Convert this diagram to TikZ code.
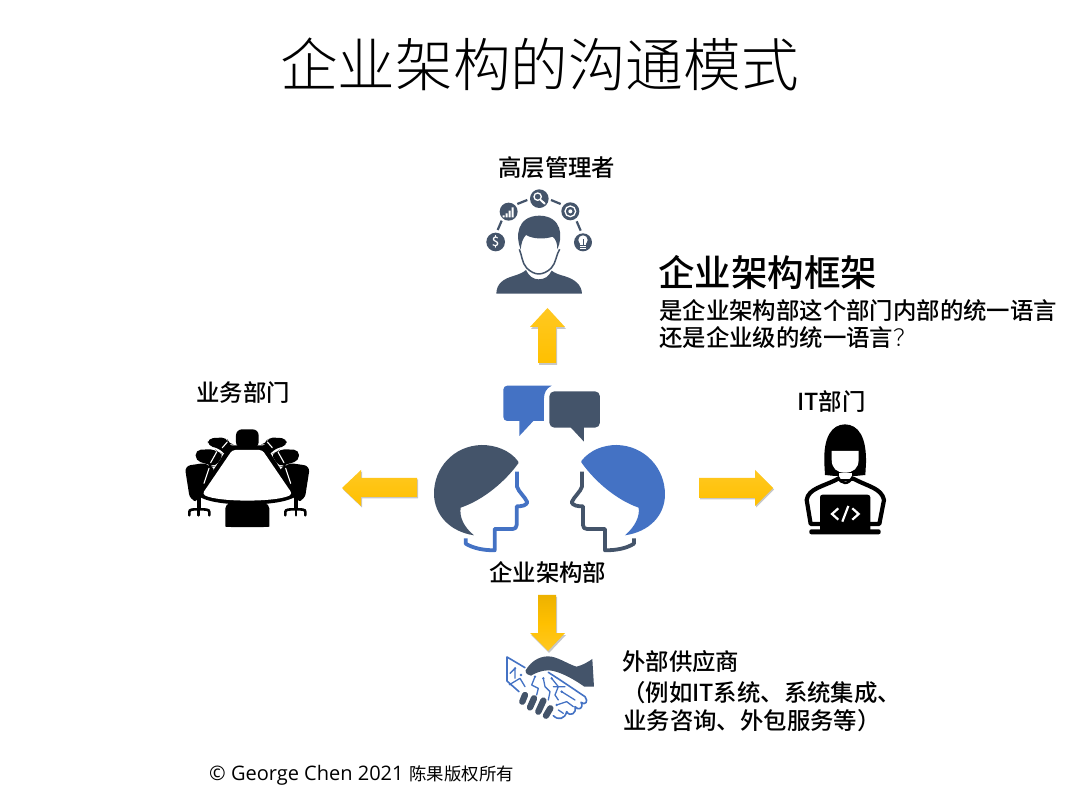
\documentclass[tikz,border=0pt]{standalone}
\usepackage{fontspec}
\setmainfont{Noto Sans CJK SC Medium}
\newfontfamily\titlefont{Noto Sans CJK SC Light}
\newfontfamily\regfont{Noto Sans CJK SC}
\newfontfamily\latinfont{Open Sans}
\definecolor{slate}{HTML}{44546A}
\definecolor{bluec}{HTML}{4472C4}
\definecolor{goldc}{HTML}{FFC000}
\definecolor{goldlight}{HTML}{FFC821}
\definecolor{golddark}{HTML}{EDB200}
\tikzset{
  lab/.style={anchor=base west,inner sep=0pt,font=\fontsize{23.4}{28}\selectfont,text=black},
  arrowup/.style={top color=goldlight,bottom color=goldc,draw=none},
  arrowdown/.style={top color=golddark,bottom color=goldlight,middle color=goldc,draw=none},
  arrowside/.style={top color=goldlight,bottom color=goldc,draw=none},
  ashadow/.style={fill=black,opacity=.22,draw=none},
  ln/.style={line cap=round,line join=round},
}
\begin{document}
\begin{tikzpicture}[x=1pt,y=-1pt]
\useasboundingbox (0,0) rectangle (1080,799);
\fill[white] (0,0) rectangle (1080,799);

% texts
\node[lab,font=\titlefont\fontsize{57.6}{60}\selectfont] (title) at (280,87) {企业架构的沟通模式};
\node[lab] (exec) at (498,177) {高层管理者};
\node[lab,font=\fontsize{36.5}{40}\selectfont] (fw) at (658,287) {企业架构框架};
\node[lab] (q1) at (659,320) {是企业架构部这个部门内部的统一语言};
\node[lab] (q2) at (659,347) {还是企业级的统一语言{\titlefont ？}};
\node[lab] (biz) at (196,402) {业务部门};
\node[lab] (it) at (797,411) {IT部门};
\node[lab] (ea) at (489,582) {企业架构部};
\node[lab] (v1) at (622,670) {外部供应商};
\node[lab] (v2) at (622,701) {（例如IT系统、系统集成、};
\node[lab] (v3) at (623,729) {业务咨询、外包服务等）};
\node[lab,font=\regfont\fontsize{17.4}{20}\selectfont] (copy) at (209,780) {{\latinfont\fontsize{20}{20}\selectfont ©\ George Chen 2021}\hspace{2pt} 陈果版权所有};

% arrows
\fill[ashadow] (548.5,310) -- (566,329) -- (557,329) -- (557,365) -- (539,365) -- (539,329) -- (531,329) -- cycle;
\shade[arrowup] (547.5,308) -- (565,327) -- (556,327) -- (556,363) -- (538,363) -- (538,327) -- (530,327) -- cycle;
\fill[ashadow] (343,489.5) -- (362,471.5) -- (362,479.5) -- (418,479.5) -- (418,498.5) -- (362,498.5) -- (362,507.5) -- cycle;
\shade[arrowside] (342,488) -- (361,470) -- (361,478) -- (417,478) -- (417,497) -- (361,497) -- (361,506) -- cycle;
\fill[ashadow] (774,489.5) -- (756,471.5) -- (756,479.5) -- (700,479.5) -- (700,499.5) -- (756,499.5) -- (756,507.5) -- cycle;
\shade[arrowside] (773,488) -- (755,470) -- (755,478) -- (699,478) -- (699,498) -- (755,498) -- (755,506) -- cycle;
\fill[ashadow] (549,653) -- (531,635) -- (539,635) -- (539,597) -- (557,597) -- (557,635) -- (566,635) -- cycle;
\shade[arrowdown] (548,651) -- (530,633) -- (538,633) -- (538,595) -- (556,595) -- (556,633) -- (565,633) -- cycle;

% executive icon
\begin{scope}[shift={(470,180)},scale=0.3333]
  \fill[slate] (77,186) circle (28);
  \fill[slate] (116,95) circle (27);
  \fill[slate] (208,56) circle (28);
  \fill[slate] (301,94) circle (27);
  \fill[slate] (339,187) circle (27);
  \draw[slate,line width=2.2pt] (83,150) -- (95,122) (142,72) -- (172,60) (243,60) -- (272,72) (320,124) -- (332,152);
  \node[text=white,inner sep=0pt,font=\fontsize{13}{13}\selectfont] (dollar) at (77,186) {\$};
  \fill[white] (98,106) rectangle (104,112) (107,100) rectangle (113,112) (116,92) rectangle (122,112) (125,82) rectangle (131,112);
  \draw[white,line width=1.3pt] (203,50) circle (11);
  \draw[white,line width=2pt,line cap=round] (212,60) -- (224,71);
  \draw[white,line width=1.3pt] (301,94) circle (16);
  \fill[white] (301,94) circle (6);
  \fill[white] (339,180) circle (14);
  \fill[white] (331,190) rectangle (347,206);
  \draw[slate,line width=.8pt] (339,178) -- (339,196) (331,197) -- (347,197) (331,201) -- (347,201);
  \fill[slate] (79,341) .. controls (80,310) and (100,297) .. (130,288) .. controls (150,282) and (160,277) .. (168,270) .. controls (178,290) and (190,298) .. (206,298) .. controls (224,298) and (236,290) .. (245,272) .. controls (255,280) and (270,285) .. (285,289) .. controls (315,298) and (335,315) .. (336,341) -- cycle;
  \fill[white] (148,205) .. controls (155,255) and (175,283) .. (206,285) .. controls (237,283) and (258,255) .. (266,205) -- (250,170) -- (170,170) -- cycle;
  \draw[slate,line width=1.5pt] (148,208) .. controls (155,222) and (156,250) .. (170,264) .. controls (182,276) and (195,282) .. (206,282) .. controls (218,282) and (232,276) .. (244,264) .. controls (258,250) and (259,222) .. (269,208);
  \fill[slate] (152,208) .. controls (136,170) and (140,108) .. (208,107) .. controls (276,108) and (280,170) .. (262,208) .. controls (262,190) and (258,178) .. (248,170) .. controls (225,178) and (190,178) .. (168,165) .. controls (158,175) and (154,190) .. (152,208) -- cycle;
\end{scope}

% heads and bubbles
\begin{scope}[shift={(420,375)},scale=0.3333]
  \fill[bluec] (262,32) -- (395,32) .. controls (378,40) and (372,55) .. (372,70) -- (372,138) -- (340,138) -- (298,183) -- (298,138) -- (262,138) .. controls (255,138) and (250,133) .. (250,126) -- (250,44) .. controls (250,37) and (255,32) .. (262,32) -- cycle;
  \fill[slate,rounded corners=5pt] (388,49) rectangle (540,158);
  \fill[slate] (450,155) -- (492,200) -- (492,155) -- cycle;
  \fill[slate] (295,260) .. controls (270,225) and (225,210) .. (185,210) .. controls (100,212) and (42,280) .. (42,355) .. controls (42,420) and (90,470) .. (162,481) .. controls (130,455) and (118,425) .. (122,398) .. controls (190,375) and (255,320) .. (295,265) -- cycle;
  \draw[bluec,line width=3.8pt,line join=round] (291,290) -- (291,335) .. controls (295,350) and (315,365) .. (322,382) .. controls (318,392) and (305,394) .. (290,394) -- (290,450) .. controls (290,458) and (285,462) .. (278,462) -- (224,462) -- (224,526) .. controls (190,526) and (160,520) .. (137,506) -- (137,490);
  \fill[bluec] (484,258) .. controls (510,225) and (550,210) .. (590,210) .. controls (675,212) and (735,280) .. (735,358) .. controls (735,420) and (690,470) .. (615,481) .. controls (645,455) and (660,425) .. (656,398) .. controls (590,375) and (525,320) .. (484,262) -- cycle;
  \draw[slate,line width=3.8pt,line join=round] (486,290) -- (486,335) .. controls (482,350) and (462,365) .. (455,382) .. controls (459,392) and (472,394) .. (489,394) -- (489,450) .. controls (489,458) and (494,462) .. (501,462) -- (555,462) -- (555,526) .. controls (590,526) and (620,520) .. (642,506) -- (642,490);
\end{scope}

% conference table
\begin{scope}[shift={(170,420)},scale=0.3333]
  \fill[black,rounded corners=6pt] (198,84) -- (198,28) -- (266,28) -- (266,84) -- cycle;
  \foreach \m in {1,-1}{
    \begin{scope}[shift={(232,0)},xscale=\m]
      \fill[black,rounded corners=5pt] (-118,78) -- (-118,55) -- (-62,52) -- (-56,72) -- (-40,74) -- (-60,110) -- (-85,85) -- cycle;
      \fill[black,rounded corners=5pt] (-155,122) -- (-155,90) -- (-97,87) -- (-88,100) -- (-70,100) -- (-95,140) -- cycle;
      \fill[black,rounded corners=6pt] (-188,138) -- (-120,128) -- (-112,140) -- (-95,140) -- (-135,225) -- (-145,245) -- (-172,240) -- cycle;
      \fill[black] (-152,235) rectangle (-140,270);
      \draw[black,line width=2.6pt,line cap=round] (-174,286) -- (-174,276) .. controls (-174,268) and (-165,268) .. (-146,268) .. controls (-125,268) and (-114,268) .. (-114,276) -- (-114,286);
      \draw[black,line width=2.6pt,line cap=round] (-146,268) -- (-146,286);
      \draw[white,line width=1.1pt,line cap=round] (-75,83) -- (-60,66) (-110,128) -- (-92,96) (-130,190) -- (-115,145);
    \end{scope}
  }
  \fill[black,rounded corners=5pt] (166,250) -- (298,250) -- (298,305) .. controls (298,322) and (166,322) .. (166,305) -- cycle;
  \fill[black,rounded corners=2pt] (178,76) -- (286,76) -- (382,226) .. controls (330,262) and (134,262) .. (82,226) -- cycle;
  \fill[white,rounded corners=3pt] (187,90) -- (277,90) -- (367,222) .. controls (320,247) and (144,247) .. (97,222) -- cycle;
\end{scope}

% coder
\begin{scope}[shift={(790,420)},scale=0.3333]
  \filldraw[fill=white,draw=black,line width=4.2pt,line join=round] (62,312) -- (50,240) .. controls (55,205) and (100,200) .. (145,176) -- (190,176) .. controls (235,200) and (275,205) .. (282,240) -- (268,312) -- cycle;
  \fill[black] (103,130) .. controls (100,50) and (125,14) .. (165,13) .. controls (205,14) and (230,50) .. (228,130) -- (226,165) -- (195,168) -- (135,168) -- (105,165) -- cycle;
  \fill[white] (125,93) -- (206,93) -- (206,118) .. controls (206,145) and (190,158) .. (165,158) .. controls (140,158) and (125,145) .. (125,118) -- cycle;
  \fill[white] (146,158) rectangle (186,178);
  \draw[black,line width=2.6pt] (143,170) .. controls (155,195) and (175,195) .. (189,170);
  \fill[black] (90,232) .. controls (90,226) and (94,224) .. (98,224) -- (232,224) .. controls (238,224) and (241,228) .. (241,232) -- (241,330) -- (90,330) -- cycle;
  \fill[black,rounded corners=2pt] (58,328) rectangle (272,343);
  \draw[white,line width=2.2pt,line join=miter] (145,265) -- (126,282) -- (145,299) (187,265) -- (206,282) -- (187,299) (175,258) -- (157,305);
\end{scope}

% handshake
\begin{scope}[shift={(495,645)},scale=0.3333]
  \fill[slate] (92,76) .. controls (110,45) and (140,30) .. (170,35) .. controls (195,40) and (225,60) .. (245,65) .. controls (265,60) and (280,50) .. (292,42) -- (297,125) -- (268,125) .. controls (240,105) and (205,85) .. (175,78) .. controls (150,72) and (125,82) .. (108,92) .. controls (100,92) and (90,85) .. (92,76) -- cycle;
  \draw[slate,line width=6.4pt,line cap=round] (90,150) -- (82,170) (117,160) -- (105,187) (145,167) -- (130,200) (166,190) -- (153,212);
  \draw[bluec,line width=1.6pt,ln] (36,36) -- (90,68) (36,36) -- (36,108) -- (72,140) (160,82) -- (200,108) -- (270,155) .. controls (282,170) and (270,182) .. (258,172) (258,172) .. controls (268,190) and (250,198) .. (240,185) (240,185) .. controls (246,205) and (225,217) .. (215,200) (215,200) .. controls (210,222) and (190,227) .. (175,212);
  \draw[bluec,line width=1.3pt,ln] (45,85) -- (60,70) -- (60,100) (45,118) -- (75,100) -- (90,125) (120,95) -- (110,120) -- (130,130) -- (125,150) (145,100) -- (150,125) -- (165,140) -- (160,165) (170,100) -- (190,125) -- (180,150) -- (190,165) (175,125) -- (210,125) (200,140) -- (240,165) (185,180) -- (215,170) -- (235,185) (190,195) -- (205,205);
  \fill[bluec] (60,70) circle (4) (45,118) circle (4) (120,95) circle (4) (145,100) circle (4) (170,100) circle (4) (200,140) circle (4) (185,180) circle (4) (78,90) circle (4);
\end{scope}
\end{tikzpicture}
\end{document}
